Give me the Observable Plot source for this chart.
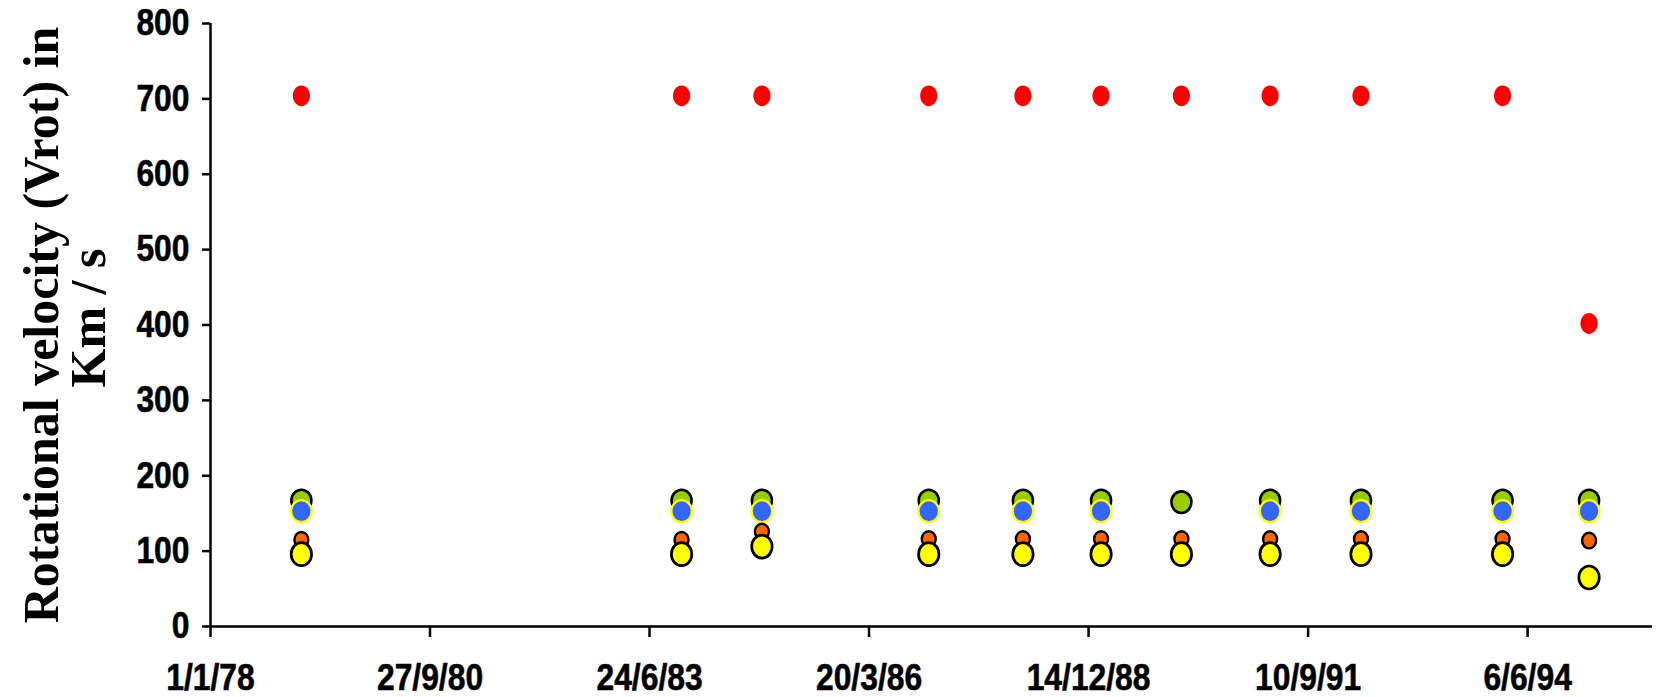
<!DOCTYPE html>
<html>
<head>
<meta charset="utf-8">
<script src="https://cdn.jsdelivr.net/npm/d3@7"></script>
<script src="https://cdn.jsdelivr.net/npm/@observablehq/plot@0.6"></script>
<style>
  html, body { margin: 0; padding: 0; background: #fff; }
  #chart { width: 1657px; height: 697px; }
</style>
</head>
<body>
<div id="chart"></div>
<script>
// ---- data ----
const obsDates = ["1979-02-19","1983-11-17","1984-11-17","1986-12-17","1988-02-19","1989-02-09","1990-02-10","1991-03-21","1992-05-08","1994-02-12","1995-03-13"];
const redSeries    = [704,704,704,704,704,704,704,704,704,704,402];
const greenSeries  = [167,167,167,167,167,167,165,167,167,167,167];
const blueSeries   = [153,153,153,153,153,153,null,153,153,153,153];
const orangeSeries = [115,115,126,116,116,116,116,116,116,116,114];
const yellowSeries = [96,96,106,96,96,96,96,96,96,96,65];

const xTickLabels = ["1/1/78","27/9/80","24/6/83","20/3/86","14/12/88","10/9/91","6/6/94"];
const yTickValues = [0,100,200,300,400,500,600,700,800];
const yTitleLines = ["Rotational velocity (Vrot) in", "Km / s"];

// ---- helpers ----
const DAY = 864e5;
const t0 = Date.UTC(1978, 0, 1);
const xTicks = xTickLabels.map((_, i) => new Date(t0 + i * 1000 * DAY));
const xDomain = [new Date(t0), new Date(t0 + 6569 * DAY)];

function ellipse(rx, ry) {
  const k = 0.5522847;
  return {
    draw(ctx) {
      ctx.moveTo(rx, 0);
      ctx.bezierCurveTo(rx, k * ry, k * rx, ry, 0, ry);
      ctx.bezierCurveTo(-k * rx, ry, -rx, k * ry, -rx, 0);
      ctx.bezierCurveTo(-rx, -k * ry, -k * rx, -ry, 0, -ry);
      ctx.bezierCurveTo(k * rx, -ry, rx, -k * ry, rx, 0);
      ctx.closePath();
    }
  };
}

function table(values) {
  return obsDates.map((d, i) => ({date: new Date(d + "T00:00:00Z"), v: values[i]}))
                 .filter(d => d.v != null);
}

const axisFont = "'Liberation Sans', Arial, sans-serif";
const titleFont = "'Liberation Serif', 'Times New Roman', serif";

const chart = Plot.plot({
  width: 1657,
  height: 697,
  marginLeft: 210,
  marginRight: 5,
  marginTop: 23,
  marginBottom: 71,
  style: {fontFamily: axisFont, fontWeight: "bold", background: "#fff", color: "#000"},
  x: {type: "utc", domain: xDomain},
  y: {domain: [0, 800]},
  marks: [
    Plot.axisX({ticks: xTicks, tickFormat: (d, i) => xTickLabels[i], tickSize: 11, tickPadding: 26,
                fontSize: 37, stroke: "#000", strokeWidth: 2.5, label: null}),
    Plot.axisY({ticks: yTickValues, tickFormat: d => String(d), tickSize: 8, tickPadding: 13,
                fontSize: 37, stroke: "#000", strokeWidth: 2.5, label: null}),
    Plot.ruleY([0], {stroke: "#000", strokeWidth: 2.5}),
    Plot.ruleX([xDomain[0]], {stroke: "#000", strokeWidth: 2.5}),
    Plot.dot(table(redSeries), {x: "date", y: "v", symbol: ellipse(8.6, 10.4), r: 9, fill: "#FF0000", stroke: "none"}),
    Plot.dot(table(greenSeries), {x: "date", y: "v", symbol: ellipse(10, 10.8), r: 10, fill: "#99CC00", stroke: "#000", strokeWidth: 2.6}),
    Plot.dot(table(blueSeries), {x: "date", y: "v", symbol: ellipse(10.3, 11), r: 10, fill: "#3366FF", stroke: "#FFFF00", strokeWidth: 2.3}),
    Plot.dot(table(orangeSeries), {x: "date", y: "v", symbol: ellipse(7, 7.8), r: 7, fill: "#FF6600", stroke: "#000", strokeWidth: 2.4}),
    Plot.dot(table(yellowSeries), {x: "date", y: "v", symbol: ellipse(10.2, 11.5), r: 10, fill: "#FFFF00", stroke: "#000", strokeWidth: 2.7}),
    Plot.text([yTitleLines[0]], {frameAnchor: "left", textAnchor: "middle", lineAnchor: "middle", rotate: -90, dx: -169, dy: 0,
              fontSize: 50, fontFamily: titleFont, fontWeight: "bold", fill: "#000"}),
    Plot.text([yTitleLines[1]], {frameAnchor: "left", textAnchor: "middle", lineAnchor: "middle", rotate: -90, dx: -122, dy: -7,
              fontSize: 50, fontFamily: titleFont, fontWeight: "bold", fill: "#000"})
  ]
});
document.getElementById("chart").appendChild(chart);

// condensed, heavy look of the tick labels
chart.querySelectorAll('g[aria-label="x-axis tick label"] text, g[aria-label="y-axis tick label"] text').forEach(t => {
  const tr = t.getAttribute("transform");
  if (tr) {
    t.setAttribute("transform", tr + " scale(0.86,1)");
  } else {
    const x = +(t.getAttribute("x") || 0), y = +(t.getAttribute("y") || 0);
    t.removeAttribute("x"); t.removeAttribute("y");
    t.setAttribute("transform", `translate(${x},${y}) scale(0.86,1)`);
  }
  t.setAttribute("stroke", "#000");
  t.setAttribute("stroke-width", "0.6");
});
</script>
</body>
</html>
